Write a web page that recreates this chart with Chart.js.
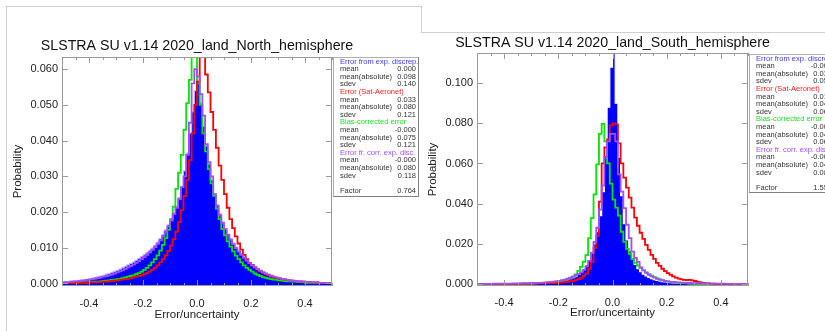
<!DOCTYPE html>
<html>
<head>
<meta charset="utf-8">
<script src="https://cdn.jsdelivr.net/npm/chart.js@4.4.1/dist/chart.umd.min.js"></script>
<style>
  html, body { margin: 0; padding: 0; background: #fff; }
  body { width: 825px; height: 331px; position: relative; overflow: hidden; }
  #frameLeft { position: absolute; left: 6px; top: 6px; width: 416px; height: 340px; box-sizing: border-box;
               border: 1px solid #cfcfcf; border-bottom: none; }
  #north { position: absolute; left: 0; top: 0; }
  #southWrap { position: absolute; left: 421px; top: 32px; width: 404px; height: 299px; background: #fff; overflow: hidden; }
  #south { position: absolute; left: 0; top: 0; }
  #frameRight { position: absolute; left: 421px; top: 32px; width: 404px; height: 1px; background: #cfcfcf; }
</style>
</head>
<body>
<div id="frameLeft"></div>
<canvas id="north" width="421" height="331"></canvas>
<div id="southWrap"><canvas id="south" width="430" height="299"></canvas></div>
<div id="frameRight"></div>
<script>
// histogram bins: 100 bins of 0.01 from -0.5 to 0.5 (values listed per bin, left edge first)
const BIN_START = -0.5;
const BIN_WIDTH = 0.01;

const seriesNames = ['Error from exp. discrep.', 'Error (Sat-Aeronet)', 'Bias-corrected error', 'Error fr. corr. exp. disc.'];
const statNames = ['mean', 'mean(absolute)', 'sdev'];

// ---- North hemisphere ----
const northBlue = [
  0.0004, 0.0005, 0.0005, 0.0006, 0.0007, 0.0008, 0.0009, 0.0010, 0.0011, 0.0012,
  0.0014, 0.0015, 0.0017, 0.0019, 0.0021, 0.0023, 0.0026, 0.0028, 0.0031, 0.0034,
  0.0037, 0.0040, 0.0044, 0.0048, 0.0052, 0.0056, 0.0060, 0.0065, 0.0070, 0.0075,
  0.0080, 0.0086, 0.0092, 0.0099, 0.0107, 0.0116, 0.0126, 0.0137, 0.0150, 0.0164,
  0.0180, 0.0197, 0.0216, 0.0240, 0.0272, 0.0315, 0.0365, 0.0420, 0.0480, 0.0540,
  0.0565, 0.0505, 0.0440, 0.0385, 0.0335, 0.0290, 0.0250, 0.0220, 0.0195, 0.0172,
  0.0152, 0.0138, 0.0125, 0.0113, 0.0102, 0.0092, 0.0083, 0.0074, 0.0066, 0.0059,
  0.0052, 0.0046, 0.0041, 0.0036, 0.0032, 0.0028, 0.0025, 0.0022, 0.0019, 0.0017,
  0.0015, 0.0013, 0.0012, 0.0010, 0.0009, 0.0008, 0.0007, 0.0006, 0.0006, 0.0005,
  0.0004, 0.0004, 0.0003, 0.0003, 0.0003, 0.0002, 0.0002, 0.0002, 0.0002, 0.0001
];
const northRed = [
  0.0001, 0.0001, 0.0001, 0.0001, 0.0001, 0.0002, 0.0002, 0.0002, 0.0002, 0.0002,
  0.0003, 0.0003, 0.0003, 0.0004, 0.0004, 0.0005, 0.0005, 0.0006, 0.0007, 0.0008,
  0.0009, 0.0010, 0.0011, 0.0012, 0.0013, 0.0015, 0.0017, 0.0019, 0.0021, 0.0023,
  0.0026, 0.0029, 0.0033, 0.0038, 0.0044, 0.0051, 0.0059, 0.0068, 0.0079, 0.0091,
  0.0106, 0.0124, 0.0145, 0.0172, 0.0205, 0.0245, 0.0290, 0.0345, 0.0420, 0.0500,
  0.0565, 0.0670, 0.0645, 0.0585, 0.0535, 0.0480, 0.0430, 0.0380, 0.0330, 0.0290,
  0.0250, 0.0212, 0.0180, 0.0155, 0.0132, 0.0112, 0.0095, 0.0080, 0.0068, 0.0058,
  0.0052, 0.0045, 0.0039, 0.0034, 0.0030, 0.0026, 0.0023, 0.0020, 0.0018, 0.0016,
  0.0014, 0.0012, 0.0011, 0.0010, 0.0009, 0.0008, 0.0007, 0.0006, 0.0006, 0.0005,
  0.0004, 0.0004, 0.0003, 0.0003, 0.0003, 0.0002, 0.0002, 0.0002, 0.0002, 0.0001
];
const northGreen = [
  0.0001, 0.0001, 0.0002, 0.0002, 0.0002, 0.0002, 0.0002, 0.0003, 0.0003, 0.0003,
  0.0004, 0.0004, 0.0005, 0.0005, 0.0006, 0.0007, 0.0008, 0.0009, 0.0010, 0.0011,
  0.0012, 0.0013, 0.0015, 0.0017, 0.0019, 0.0021, 0.0023, 0.0026, 0.0029, 0.0033,
  0.0038, 0.0044, 0.0051, 0.0059, 0.0068, 0.0079, 0.0092, 0.0108, 0.0127, 0.0150,
  0.0180, 0.0215, 0.0265, 0.0310, 0.0360, 0.0430, 0.0505, 0.0570, 0.0670, 0.0645,
  0.0560, 0.0500, 0.0420, 0.0370, 0.0320, 0.0280, 0.0245, 0.0210, 0.0180, 0.0152,
  0.0135, 0.0118, 0.0103, 0.0090, 0.0078, 0.0068, 0.0059, 0.0051, 0.0044, 0.0038,
  0.0033, 0.0028, 0.0024, 0.0021, 0.0018, 0.0016, 0.0014, 0.0012, 0.0011, 0.0010,
  0.0009, 0.0008, 0.0007, 0.0006, 0.0006, 0.0005, 0.0005, 0.0004, 0.0004, 0.0003,
  0.0002, 0.0002, 0.0002, 0.0002, 0.0002, 0.0001, 0.0001, 0.0001, 0.0001, 0.0001
];
const northPurple = [
  0.0003, 0.0004, 0.0004, 0.0005, 0.0006, 0.0006, 0.0007, 0.0008, 0.0009, 0.0010,
  0.0011, 0.0012, 0.0014, 0.0015, 0.0017, 0.0019, 0.0021, 0.0023, 0.0025, 0.0028,
  0.0031, 0.0034, 0.0037, 0.0041, 0.0045, 0.0049, 0.0053, 0.0058, 0.0063, 0.0068,
  0.0074, 0.0080, 0.0087, 0.0094, 0.0102, 0.0111, 0.0121, 0.0132, 0.0145, 0.0160,
  0.0176, 0.0194, 0.0212, 0.0236, 0.0270, 0.0300, 0.0360, 0.0450, 0.0560, 0.0600,
  0.0580, 0.0530, 0.0470, 0.0390, 0.0340, 0.0300, 0.0250, 0.0218, 0.0192, 0.0170,
  0.0152, 0.0136, 0.0122, 0.0110, 0.0099, 0.0089, 0.0080, 0.0072, 0.0064, 0.0057,
  0.0051, 0.0045, 0.0040, 0.0036, 0.0032, 0.0028, 0.0025, 0.0022, 0.0019, 0.0017,
  0.0015, 0.0013, 0.0012, 0.0010, 0.0009, 0.0008, 0.0007, 0.0006, 0.0006, 0.0005,
  0.0004, 0.0004, 0.0003, 0.0003, 0.0003, 0.0002, 0.0002, 0.0002, 0.0001, 0.0001
];
const northStats = [['0.000', '0.098', '0.140'], ['0.033', '0.080', '0.121'], ['-0.000', '0.075', '0.121'], ['-0.000', '0.080', '0.118']];
const northFactor = '0.764';
const northYTicks = { min: -0.0007, max: 0.0634, step: 0.01 };

// ---- South hemisphere ----
const southBlue = [
  0.0001, 0.0001, 0.0001, 0.0001, 0.0001, 0.0001, 0.0001, 0.0001, 0.0001, 0.0001,
  0.0001, 0.0001, 0.0001, 0.0001, 0.0001, 0.0002, 0.0002, 0.0002, 0.0002, 0.0002,
  0.0002, 0.0003, 0.0003, 0.0004, 0.0004, 0.0005, 0.0006, 0.0007, 0.0008, 0.0010,
  0.0012, 0.0014, 0.0017, 0.0021, 0.0026, 0.0032, 0.0039, 0.0049, 0.0061, 0.0077,
  0.0096, 0.0122, 0.0155, 0.0200, 0.0260, 0.0340, 0.0460, 0.0640, 0.0880, 0.1080,
  0.1180, 0.0900, 0.0630, 0.0440, 0.0300, 0.0220, 0.0165, 0.0125, 0.0097, 0.0077,
  0.0061, 0.0049, 0.0040, 0.0033, 0.0027, 0.0022, 0.0018, 0.0015, 0.0012, 0.0010,
  0.0008, 0.0007, 0.0006, 0.0005, 0.0004, 0.0004, 0.0003, 0.0003, 0.0002, 0.0002,
  0.0002, 0.0002, 0.0001, 0.0001, 0.0001, 0.0001, 0.0001, 0.0001, 0.0001, 0.0001,
  0.0001, 0.0001, 0.0001, 0.0001, 0.0001, 0.0001, 0.0001, 0.0001, 0.0001, 0.0001
];
const southRed = [
  0.0001, 0.0001, 0.0001, 0.0001, 0.0001, 0.0001, 0.0001, 0.0001, 0.0001, 0.0001,
  0.0001, 0.0001, 0.0001, 0.0001, 0.0001, 0.0001, 0.0002, 0.0002, 0.0002, 0.0002,
  0.0002, 0.0002, 0.0003, 0.0003, 0.0003, 0.0004, 0.0004, 0.0005, 0.0005, 0.0006,
  0.0007, 0.0008, 0.0009, 0.0011, 0.0013, 0.0015, 0.0019, 0.0024, 0.0030, 0.0040,
  0.0052, 0.0075, 0.0110, 0.0180, 0.0240, 0.0410, 0.0600, 0.0680, 0.0720, 0.0790,
  0.0800, 0.0795, 0.0700, 0.0600, 0.0530, 0.0480, 0.0430, 0.0380, 0.0330, 0.0290,
  0.0255, 0.0225, 0.0195, 0.0170, 0.0145, 0.0125, 0.0105, 0.0090, 0.0076, 0.0064,
  0.0054, 0.0045, 0.0038, 0.0032, 0.0027, 0.0023, 0.0020, 0.0019, 0.0020, 0.0018,
  0.0015, 0.0011, 0.0008, 0.0006, 0.0004, 0.0003, 0.0002, 0.0002, 0.0001, 0.0001,
  0.0001, 0.0001, 0.0001, 0.0001, 0.0001, 0.0001, 0.0001, 0.0001, 0.0001, 0.0001
];
const southGreen = [
  0.0001, 0.0001, 0.0001, 0.0001, 0.0001, 0.0001, 0.0001, 0.0001, 0.0001, 0.0001,
  0.0001, 0.0001, 0.0001, 0.0001, 0.0001, 0.0002, 0.0002, 0.0002, 0.0002, 0.0003,
  0.0003, 0.0003, 0.0004, 0.0004, 0.0005, 0.0006, 0.0007, 0.0008, 0.0009, 0.0011,
  0.0013, 0.0016, 0.0019, 0.0023, 0.0029, 0.0037, 0.0048, 0.0065, 0.0085, 0.0110,
  0.0144, 0.0228, 0.0328, 0.0446, 0.0596, 0.0747, 0.0797, 0.0710, 0.0600, 0.0500,
  0.0420, 0.0380, 0.0340, 0.0260, 0.0210, 0.0175, 0.0150, 0.0125, 0.0105, 0.0092,
  0.0080, 0.0068, 0.0058, 0.0049, 0.0041, 0.0034, 0.0028, 0.0023, 0.0019, 0.0016,
  0.0013, 0.0011, 0.0009, 0.0007, 0.0006, 0.0005, 0.0004, 0.0003, 0.0002, 0.0002,
  0.0001, 0.0001, 0.0001, 0.0001, 0.0001, 0.0001, 0.0001, 0.0001, 0.0001, 0.0001,
  0.0001, 0.0001, 0.0001, 0.0001, 0.0001, 0.0001, 0.0001, 0.0001, 0.0001, 0.0001
];
const southPurple = [
  0.0001, 0.0001, 0.0001, 0.0001, 0.0001, 0.0001, 0.0002, 0.0002, 0.0002, 0.0002,
  0.0002, 0.0002, 0.0002, 0.0003, 0.0003, 0.0003, 0.0003, 0.0004, 0.0004, 0.0004,
  0.0005, 0.0005, 0.0006, 0.0006, 0.0007, 0.0008, 0.0009, 0.0010, 0.0012, 0.0014,
  0.0016, 0.0019, 0.0022, 0.0026, 0.0031, 0.0037, 0.0043, 0.0050, 0.0058, 0.0070,
  0.0088, 0.0115, 0.0155, 0.0210, 0.0280, 0.0370, 0.0490, 0.0630, 0.0710, 0.0747,
  0.0747, 0.0710, 0.0546, 0.0460, 0.0378, 0.0295, 0.0228, 0.0161, 0.0130, 0.0110,
  0.0082, 0.0068, 0.0056, 0.0046, 0.0038, 0.0032, 0.0026, 0.0022, 0.0018, 0.0015,
  0.0013, 0.0011, 0.0010, 0.0009, 0.0008, 0.0007, 0.0006, 0.0005, 0.0005, 0.0004,
  0.0004, 0.0004, 0.0003, 0.0003, 0.0003, 0.0003, 0.0002, 0.0002, 0.0002, 0.0002,
  0.0002, 0.0002, 0.0001, 0.0001, 0.0001, 0.0001, 0.0001, 0.0001, 0.0001, 0.0001
];
const southStats = [['-0.002', '0.032', '0.056'], ['0.012', '0.048', '0.067'], ['-0.000', '0.046', '0.065'], ['-0.003', '0.049', '0.085']];
const southFactor = '1.556';
const southYTicks = { min: -0.001, max: 0.115, step: 0.02 };

const xTickValues = [-0.4, -0.2, 0.0, 0.2, 0.4];

const FONT = "'Liberation Sans', Arial, Helvetica, sans-serif";
const AXIS_GREY = '#9a9a9a';
const TEXT = '#222';
const C_BLUE = '#0000ff', C_RED = '#ff0000', C_GREEN = '#00e600', C_PURPLE = '#a24cff';
const titleColors = ['#3a3aff', '#ff2222', '#22dd22', '#a24cff'];

Chart.defaults.font.family = FONT;
Chart.defaults.color = TEXT;

function steps(values) {
  const pts = values.map((v, i) => ({ x: BIN_START + i * BIN_WIDTH, y: v }));
  pts.push({ x: BIN_START + values.length * BIN_WIDTH, y: values[values.length - 1] });
  return pts;
}

// plot title centred over the plot area (no width squeeze)
const plotTitle = {
  id: 'plotTitle',
  afterDraw(chart, args, o) {
    const { ctx, chartArea: a } = chart;
    ctx.save();
    ctx.font = '14.2px ' + FONT;
    ctx.fillStyle = '#111';
    ctx.textAlign = 'center';
    ctx.textBaseline = 'middle';
    ctx.fillText(o.text, (a.left + a.right) / 2, o.y);
    ctx.restore();
  }
};

// inward tick marks on all four sides plus the plot frame
const axesBox = {
  id: 'axesBox',
  afterDatasetsDraw(chart) {
    const { ctx, chartArea: a, scales: { x, y } } = chart;
    ctx.save();
    ctx.strokeStyle = AXIS_GREY;
    ctx.lineWidth = 1;
    ctx.strokeRect(a.left + 0.5, a.top + 0.5, a.right - a.left - 1, a.bottom - a.top - 1);
    ctx.beginPath();
    for (let i = 0; i <= 20; i++) {
      const v = -0.5 + i * 0.05;
      const px = Math.round(x.getPixelForValue(v)) + 0.5;
      const len = xTickValues.some(t => Math.abs(t - v) < 1e-6) ? 6 : 3;
      ctx.moveTo(px, a.bottom); ctx.lineTo(px, a.bottom - len);
      ctx.moveTo(px, a.top); ctx.lineTo(px, a.top + len);
    }
    y.ticks.forEach(t => {
      const py = Math.round(y.getPixelForValue(t.value)) + 0.5;
      ctx.moveTo(a.left, py); ctx.lineTo(a.left + 6, py);
      ctx.moveTo(a.right, py); ctx.lineTo(a.right - 6, py);
    });
    ctx.stroke();
    ctx.restore();
  }
};

// statistics box right of the plot
const statsBox = {
  id: 'statsBox',
  afterDraw(chart, args, o) {
    const { ctx, chartArea: a } = chart;
    const left = a.right + 1, top = a.top + o.dy, w = 86, h = o.height;
    ctx.save();
    ctx.fillStyle = '#fff';
    ctx.fillRect(left, top, w, h);
    ctx.strokeStyle = '#b0b0b0';
    ctx.lineWidth = 1;
    ctx.strokeRect(left + 0.5, top + 0.5, w - 1, h - 1);
    ctx.strokeStyle = '#808080';
    ctx.beginPath();
    ctx.moveTo(left + w - 0.5, top); ctx.lineTo(left + w - 0.5, top + h);
    ctx.moveTo(left, top + h - 0.5); ctx.lineTo(left + w, top + h - 0.5);
    ctx.stroke();
    ctx.beginPath();
    ctx.rect(left + 1, top + 1, w - 2, h - 2);
    ctx.clip();
    ctx.font = '7.5px ' + FONT;
    ctx.textBaseline = 'middle';
    const lx = left + 7, rx = left + w - 3, dy = 7.6;
    let yy = top + 4.5;
    seriesNames.forEach((name, k) => {
      ctx.fillStyle = titleColors[k];
      ctx.textAlign = 'left';
      ctx.fillText(name, lx, yy);
      yy += dy;
      statNames.forEach((s, j) => {
        ctx.fillStyle = '#333';
        ctx.textAlign = 'left';
        ctx.fillText(s, lx, yy);
        ctx.textAlign = 'right';
        ctx.fillText(o.stats[k][j], rx, yy);
        yy += dy;
      });
    });
    yy += dy;
    ctx.fillStyle = '#333';
    ctx.textAlign = 'left';
    ctx.fillText('Factor', lx, yy);
    ctx.textAlign = 'right';
    ctx.fillText(o.factor, rx, yy);
    ctx.restore();
  }
};

function makeChart(id, P) {
  const ds = (label, values, color, order) => ({
    label, data: steps(values), stepped: true, fill: false,
    borderColor: color, borderWidth: 1.8, pointRadius: 0, order
  });
  new Chart(document.getElementById(id), {
    type: 'line',
    data: {
      datasets: [
        ds(seriesNames[3], P.purple, C_PURPLE, 1),
        ds(seriesNames[1], P.red, C_RED, 2),
        ds(seriesNames[2], P.green, C_GREEN, 3),
        {
          label: seriesNames[0], data: steps(P.blue), stepped: true, fill: 'start',
          backgroundColor: C_BLUE, borderColor: P.blueEdge, borderWidth: 1.2, pointRadius: 0, order: 4
        }
      ]
    },
    options: {
      responsive: false,
      animation: false,
      devicePixelRatio: 1,
      events: [],
      layout: { padding: { left: 0, right: P.padRight, top: P.padTop, bottom: 0 } },
      plugins: {
        legend: { display: false },
        tooltip: { enabled: false },
        title: { display: false },
        plotTitle: { text: P.title, y: P.titleY },
        statsBox: { stats: P.stats, factor: P.factor, dy: P.boxDy, height: P.boxHeight }
      },
      scales: {
        x: {
          type: 'linear', min: -0.5, max: 0.5,
          afterFit: s => { s.height = 45; },
          afterBuildTicks: s => { s.ticks = xTickValues.map(v => ({ value: v })); },
          grid: { display: false, drawTicks: false }, border: { display: false },
          ticks: { padding: P.xTickPad, color: TEXT, font: { size: 11 },
                   callback: v => (Math.abs(v) < 1e-9 ? 0 : v).toFixed(1) },
          title: { display: true, text: 'Error/uncertainty', color: TEXT, font: { size: 11.5 },
                   padding: { top: 0, bottom: P.xTitlePad } }
        },
        y: {
          type: 'linear', min: P.yTicks.min, max: P.yTicks.max,
          afterFit: s => { s.width = P.yWidth; },
          grid: { display: false, drawTicks: false }, border: { display: false },
          ticks: { stepSize: P.yTicks.step, includeBounds: false, padding: 4, color: TEXT, font: { size: 11 },
                   callback: v => (Math.abs(v) < 1e-9 ? 0 : v).toFixed(3) },
          title: { display: true, text: 'Probability', color: TEXT, font: { size: 11.5 },
                   padding: { top: P.yTitlePad, bottom: 0 } }
        }
      }
    },
    plugins: [axesBox, statsBox, plotTitle]
  });
}

makeChart('north', {
  title: 'SLSTRA SU v1.14 2020_land_North_hemisphere', titleY: 46,
  blue: northBlue, red: northRed, green: northGreen, purple: northPurple,
  blueEdge: '#b8b8ff', stats: northStats, factor: northFactor, yTicks: northYTicks,
  padRight: 89, padTop: 57,
  yWidth: 62, xTickPad: 11.5, xTitlePad: 9, yTitlePad: 11, boxDy: 0, boxHeight: 140
});

makeChart('south', {
  title: 'SLSTRA SU v1.14 2020_land_South_hemisphere', titleY: 11,
  blue: southBlue, red: southRed, green: southGreen, purple: southPurple,
  blueEdge: '#ffffff', stats: southStats, factor: southFactor, yTicks: southYTicks,
  padRight: 103, padTop: 21,
  yWidth: 56, xTickPad: 10, xTitlePad: 10.8, yTitlePad: 5.4, boxDy: 1, boxHeight: 139
});
</script>
</body>
</html>
